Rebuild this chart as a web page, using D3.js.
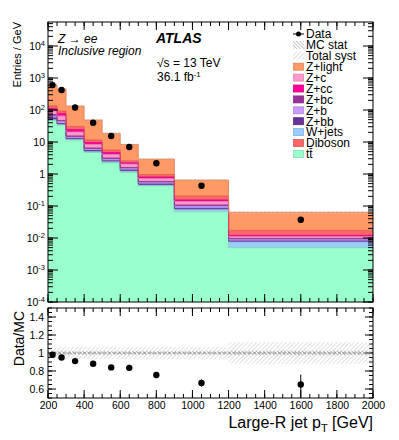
<!DOCTYPE html>
<html>
<head>
<meta charset="utf-8">
<script src="https://cdn.jsdelivr.net/npm/d3@7"></script>
<style>
  body { margin: 0; background: #fff; }
  text { font-family: "Liberation Sans", Arial, Helvetica, sans-serif; fill: #000; }
</style>
</head>
<body>
<svg id="chart" width="399" height="440"></svg>
<script>
// ---- data ----
const binEdges = [200, 250, 300, 400, 500, 600, 700, 900, 1200, 2000];
const binCentres = [225, 275, 350, 450, 550, 650, 800, 1050, 1600];

const dataValues = [600, 420, 120, 40.1, 15.4, 6.98, 2.16, 0.43, 0.0373];
const dataErrors = [8, 6, 2, 1, 0.5, 0.3, 0.08, 0.025, 0.0063];

// stacked MC, bottom to top
const ttValues      = [47.0, 34.0, 11.55, 4.70, 2.21, 1.13, 0.422, 0.0664, 0.00498];
const wjetsValues   = [3.5, 1.7, 0.6, 0.35, 0.25, 0.11, 0.031, 0.0114, 0.00268];
const zbbValues     = [5.7, 2.1, 0.8, 0.37, 0.14, 0.09, 0.034, 0.0070, 0.00039];
const zbValues      = [8.7, 5.9, 1.4, 0.62, 0.34, 0.15, 0.056, 0.0152, 0.00093];
const zbcValues     = [7.4, 3.3, 1.1, 0.45, 0.22, 0.12, 0.040, 0.0075, 0.00067];
const zcValues      = [20.7, 17.9, 5.1, 1.86, 0.91, 0.45, 0.14, 0.031, 0.00135];
const zccValues     = [18.4, 12.9, 4.1, 1.29, 0.63, 0.20, 0.083, 0.016, 0.0011];
const dibosonValues = [22, 15.2, 5.9, 1.91, 0.92, 0.35, 0.159, 0.051, 0.0053];
const zlightValues  = [478, 360, 102.9, 37.2, 13.1, 5.76, 1.98, 0.444, 0.0462];

const ratioValues = [0.98, 0.95, 0.91, 0.88, 0.84, 0.835, 0.755, 0.667, 0.65];
const ratioErrors = [0.012, 0.014, 0.017, 0.022, 0.028, 0.035, 0.03, 0.04, 0.11];
const mcStatBand  = [0.02, 0.02, 0.02, 0.02, 0.02, 0.02, 0.02, 0.02, 0.025];
const systBand    = [0.07, 0.07, 0.07, 0.07, 0.07, 0.07, 0.07, 0.07, 0.12];

const legendLabels = ["Z+light", "Z+c", "Z+cc", "Z+bc", "Z+b", "Z+bb", "W+jets", "Diboson", "tt\u0304"];
const stackKeys = ["tt", "wjets", "zbb", "zb", "zbc", "zc", "zcc", "diboson", "zlight"];
const colors = {
  zlight: "#ff9966", zc: "#ff99cc", zcc: "#ff0099", zbc: "#993399", zb: "#cc99ff",
  zbb: "#663399", wjets: "#99ccff", diboson: "#ff6666", tt: "#99ffcc"
};
const legendKeys = ["zlight", "zc", "zcc", "zbc", "zb", "zbb", "wjets", "diboson", "tt"];

const mainYTicks = [1e-4, 1e-3, 1e-2, 1e-1, 1, 10, 1e2, 1e3, 1e4];
const ratioYTicks = [0.6, 0.8, 1, 1.2, 1.4];
const xTicks = [200, 400, 600, 800, 1000, 1200, 1400, 1600, 1800, 2000];

// ---- layout ----
const L = 48, R = 373;
const mainTop = 22, mainBot = 302;
const ratTop = 308, ratBot = 398;

const svg = d3.select("#chart");
const defs = svg.append("defs");

function hatch(id, color, angle, spacing, width) {
  const p = defs.append("pattern").attr("id", id)
      .attr("patternUnits", "userSpaceOnUse")
      .attr("width", spacing).attr("height", spacing)
      .attr("patternTransform", "rotate(" + angle + ")");
  p.append("line").attr("x1", 0).attr("y1", 0).attr("x2", 0).attr("y2", spacing)
      .attr("stroke", color).attr("stroke-width", width);
}
hatch("systHatch", "#c4c4c4", 45, 3, 1);
hatch("statHatch", "#555555", -45, 2.5, 1);

defs.append("clipPath").attr("id", "mainClip")
    .append("rect").attr("x", L).attr("y", mainTop).attr("width", R - L).attr("height", mainBot - mainTop);
defs.append("clipPath").attr("id", "ratClip")
    .append("rect").attr("x", L).attr("y", ratTop).attr("width", R - L).attr("height", ratBot - ratTop);

const x = d3.scaleLinear().domain([200, 2000]).range([L, R]);
const y = d3.scaleLog().domain([1e-4, Math.pow(10, 4.75)]).range([mainBot, mainTop]);
const yr = d3.scaleLinear().domain([0.5, 1.5]).range([ratBot, ratTop]);

// ---- stack ----
const valueMap = {
  tt: ttValues, wjets: wjetsValues, zbb: zbbValues, zb: zbValues, zbc: zbcValues,
  zc: zcValues, zcc: zccValues, diboson: dibosonValues, zlight: zlightValues
};
const rows = binCentres.map((c, i) => {
  const r = { lo: binEdges[i], hi: binEdges[i + 1] };
  stackKeys.forEach(k => r[k] = valueMap[k][i]);
  return r;
});
const series = d3.stack().keys(stackKeys)(rows);
const totals = rows.map((r, i) => series[series.length - 1][i][1]);

const gMain = svg.append("g").attr("clip-path", "url(#mainClip)");
const stepArea = d3.area().x(p => p[0]).y0(p => p[1]).y1(p => p[2]);
series.forEach(s => {
  const pts = [];
  s.forEach(d => {
    const y0 = y(Math.max(d[0], 1e-5)), y1 = y(d[1]);
    pts.push([x(d.data.lo), y0, y1]);
    pts.push([x(d.data.hi), y0, y1]);
  });
  gMain.append("path").attr("d", stepArea(pts)).attr("fill", colors[s.key]);
});
series.forEach(s => {
  const pts = [];
  s.forEach(d => { pts.push([x(d.data.lo), y(d[1])]); pts.push([x(d.data.hi), y(d[1])]); });
  gMain.append("path").attr("d", d3.line()(pts))
      .attr("fill", "none")
      .attr("stroke", d3.color(colors[s.key]).darker(0.5))
      .attr("stroke-width", 0.8);
});
// uncertainty band on the stack top
gMain.selectAll(null).data(rows).enter().append("rect")
    .attr("x", d => x(d.lo))
    .attr("width", d => x(d.hi) - x(d.lo))
    .attr("y", (d, i) => y(totals[i] * (1 + systBand[i])))
    .attr("height", (d, i) => y(totals[i] * (1 - systBand[i])) - y(totals[i] * (1 + systBand[i])))
    .attr("fill", "url(#systHatch)");

// data points
const gData = svg.append("g");
gData.selectAll(null).data(dataValues).enter().append("line")
    .attr("x1", (d, i) => x(binCentres[i])).attr("x2", (d, i) => x(binCentres[i]))
    .attr("y1", (d, i) => y(d + dataErrors[i])).attr("y2", (d, i) => y(d - dataErrors[i]))
    .attr("stroke", "#000").attr("stroke-width", 1);
gData.selectAll(null).data(dataValues).enter().append("circle")
    .attr("cx", (d, i) => x(binCentres[i])).attr("cy", d => y(d))
    .attr("r", 3.2).attr("fill", "#000");

// ---- main frame and ticks ----
function drawTicks(g, scale, vals, len, orient, pos) {
  vals.forEach(v => {
    const p = scale(v);
    let l;
    if (orient === "left") l = [pos, p, pos + len, p];
    if (orient === "right") l = [pos, p, pos - len, p];
    if (orient === "bottom") l = [p, pos, p, pos - len];
    if (orient === "top") l = [p, pos, p, pos + len];
    g.append("line").attr("x1", l[0]).attr("y1", l[1]).attr("x2", l[2]).attr("y2", l[3])
        .attr("stroke", "#000").attr("stroke-width", 1);
  });
}
const gAx = svg.append("g");
const yMinor = y.ticks().filter(v => v >= 1e-4 && v <= Math.pow(10, 4.75));
const xMinor = d3.range(200, 2001, 50);
drawTicks(gAx, y, yMinor, 5, "left", L);
drawTicks(gAx, y, yMinor, 5, "right", R);
drawTicks(gAx, y, mainYTicks, 10, "left", L);
drawTicks(gAx, y, mainYTicks, 10, "right", R);
drawTicks(gAx, x, xMinor, 4, "bottom", mainBot);
drawTicks(gAx, x, xMinor, 4, "top", mainTop);
drawTicks(gAx, x, xTicks, 8, "bottom", mainBot);
drawTicks(gAx, x, xTicks, 8, "top", mainTop);
svg.append("rect").attr("x", L).attr("y", mainTop).attr("width", R - L).attr("height", mainBot - mainTop)
    .attr("fill", "none").attr("stroke", "#000").attr("stroke-width", 1);

// y labels with axisLeft
const yAxis = d3.axisLeft(y).tickValues(mainYTicks).tickSize(0).tickPadding(3);
const yAxG = svg.append("g").attr("transform", "translate(" + L + ",0)").call(yAxis);
yAxG.select(".domain").remove();
yAxG.selectAll("text").style("font-size", "10.5px").each(function (d) {
  const e = Math.round(Math.log10(d));
  const t = d3.select(this).text(null);
  if (e === 0) t.text("1");
  else if (e === 1) t.text("10");
  else {
    t.append("tspan").text("10");
    t.append("tspan").attr("dy", "-0.5em").style("font-size", "7.5px").text(e);
  }
});

svg.append("text").attr("transform", "translate(20.5," + mainTop + ") rotate(-90)")
    .attr("text-anchor", "end").style("font-size", "11px").text("Entries / GeV");

// annotations
svg.append("text").attr("x", 58).attr("y", 43).style("font-size", "12px").style("font-style", "italic")
    .text("Z \u2192 ee");
svg.append("text").attr("x", 58).attr("y", 55).style("font-size", "12px").style("font-style", "italic")
    .text("Inclusive region");
svg.append("text").attr("x", 156).attr("y", 43).style("font-size", "14px").style("font-style", "italic")
    .style("font-weight", "bold").text("ATLAS");
svg.append("text").attr("x", 157).attr("y", 67).style("font-size", "12px").text("\u221As = 13 TeV");
const lumi = svg.append("text").attr("x", 157).attr("y", 81).style("font-size", "12px");
lumi.append("tspan").text("36.1 fb");
lumi.append("tspan").attr("dy", "-0.45em").style("font-size", "8px").text("-1");

// ---- legend ----
const legX = 293, legY0 = 34, legStep = 10.9;
const gLeg = svg.append("g").style("font-size", "12px");
gLeg.append("line").attr("x1", legX).attr("x2", legX + 11).attr("y1", legY0).attr("y2", legY0)
    .attr("stroke", "#000");
gLeg.append("circle").attr("cx", legX + 5.5).attr("cy", legY0).attr("r", 2.5).attr("fill", "#000");
gLeg.append("rect").attr("x", legX).attr("y", legY0 + legStep - 4).attr("width", 11).attr("height", 8)
    .attr("fill", "url(#statHatch)").attr("opacity", 0.7);
gLeg.append("rect").attr("x", legX).attr("y", legY0 + 2 * legStep - 4).attr("width", 11).attr("height", 8)
    .attr("fill", "url(#systHatch)");
const legNames = ["Data", "MC stat", "Total syst"].concat(legendLabels);
legendKeys.forEach((k, i) => {
  gLeg.append("rect").attr("x", legX + 0.5).attr("y", legY0 + (i + 3) * legStep - 3.5)
      .attr("width", 10).attr("height", 7).attr("fill", colors[k])
      .attr("stroke", d3.color(colors[k]).darker(0.4)).attr("stroke-width", 0.8);
});
legNames.forEach((n, i) => {
  gLeg.append("text").attr("x", legX + 13).attr("y", legY0 + i * legStep + 4.3).text(n);
});

// ---- ratio panel ----
const gRat = svg.append("g").attr("clip-path", "url(#ratClip)");
gRat.selectAll(null).data(rows).enter().append("rect")
    .attr("x", d => x(d.lo)).attr("width", d => x(d.hi) - x(d.lo))
    .attr("y", (d, i) => yr(1 + systBand[i]))
    .attr("height", (d, i) => yr(1 - systBand[i]) - yr(1 + systBand[i]))
    .attr("fill", "url(#systHatch)");
gRat.selectAll(null).data(rows).enter().append("rect")
    .attr("x", d => x(d.lo)).attr("width", d => x(d.hi) - x(d.lo))
    .attr("y", (d, i) => yr(1 + mcStatBand[i]))
    .attr("height", (d, i) => yr(1 - mcStatBand[i]) - yr(1 + mcStatBand[i]))
    .attr("fill", "url(#statHatch)").attr("opacity", 0.75);
gRat.append("line").attr("x1", L).attr("x2", R).attr("y1", yr(1)).attr("y2", yr(1))
    .attr("stroke", "#888").attr("stroke-dasharray", "3,2");
gRat.selectAll(null).data(ratioValues).enter().append("line")
    .attr("x1", (d, i) => x(binCentres[i])).attr("x2", (d, i) => x(binCentres[i]))
    .attr("y1", (d, i) => yr(d + ratioErrors[i])).attr("y2", (d, i) => yr(d - ratioErrors[i]))
    .attr("stroke", "#000");
gRat.selectAll(null).data(ratioValues).enter().append("circle")
    .attr("cx", (d, i) => x(binCentres[i])).attr("cy", d => yr(d))
    .attr("r", 3.2).attr("fill", "#000");

const ratMinor = d3.range(0.5, 1.5001, 0.05);
drawTicks(gAx, yr, ratMinor, 4, "left", L);
drawTicks(gAx, yr, ratMinor, 4, "right", R);
drawTicks(gAx, yr, ratioYTicks, 8, "left", L);
drawTicks(gAx, yr, ratioYTicks, 8, "right", R);
drawTicks(gAx, x, xMinor, 4, "bottom", ratBot);
drawTicks(gAx, x, xMinor, 4, "top", ratTop);
drawTicks(gAx, x, xTicks, 8, "bottom", ratBot);
drawTicks(gAx, x, xTicks, 8, "top", ratTop);
svg.append("rect").attr("x", L).attr("y", ratTop).attr("width", R - L).attr("height", ratBot - ratTop)
    .attr("fill", "none").attr("stroke", "#000").attr("stroke-width", 1);

const yrAxG = svg.append("g").attr("transform", "translate(" + L + ",0)")
    .call(d3.axisLeft(yr).tickValues(ratioYTicks).tickSize(0).tickPadding(4).tickFormat(d3.format("~g")));
yrAxG.select(".domain").remove();
yrAxG.selectAll("text").style("font-size", "10.5px");

const xAxG = svg.append("g").attr("transform", "translate(0," + ratBot + ")")
    .call(d3.axisBottom(x).tickValues(xTicks).tickSize(0).tickPadding(4).tickFormat(d3.format("d")));
xAxG.select(".domain").remove();
xAxG.selectAll("text").style("font-size", "10.5px");

svg.append("text").attr("transform", "translate(24,311) rotate(-90)")
    .attr("text-anchor", "end").style("font-size", "14px").text("Data/MC");

const xt = svg.append("text").attr("x", R).attr("y", 428).attr("text-anchor", "end").style("font-size", "16px");
xt.append("tspan").text("Large-R jet p");
xt.append("tspan").attr("dy", "4").style("font-size", "11px").text("T");
xt.append("tspan").attr("dy", "-4").text(" [GeV]");
</script>
</body>
</html>
